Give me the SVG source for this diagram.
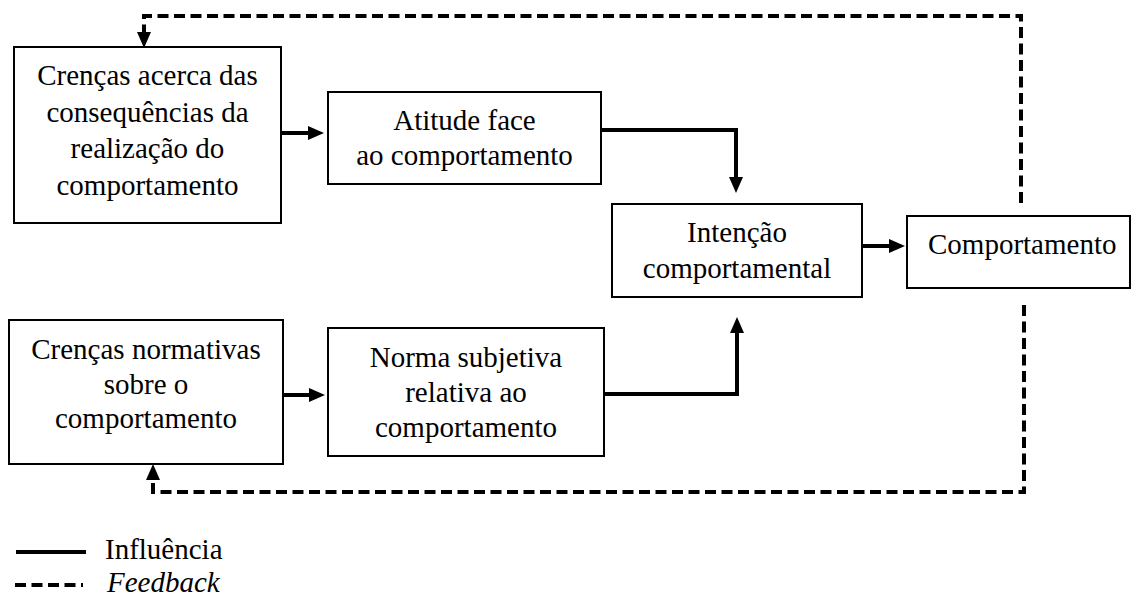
<svg xmlns="http://www.w3.org/2000/svg" width="1137" height="601" viewBox="0 0 1137 601">
<style>
.box{fill:#fff;stroke:#000;stroke-width:2}
.t{font-family:"Liberation Serif","Times New Roman",serif;font-size:29px;fill:#000;text-anchor:middle}
.s{fill:none;stroke:#000;stroke-width:4}
.d{fill:none;stroke:#000;stroke-width:4;stroke-dasharray:11 5.5}
</style>
<defs>
<marker id="ah" markerUnits="userSpaceOnUse" markerWidth="16" markerHeight="14" refX="1" refY="7" orient="auto">
<path d="M0,0 L16,7 L0,14 z" fill="#000"/>
</marker>
</defs>
<rect width="1137" height="601" fill="#fff"/>
<g id="connectors">
<path class="s" d="M281,133 H309" marker-end="url(#ah)"/>
<path class="s" d="M601,130 H736 V178" marker-end="url(#ah)"/>
<path class="s" d="M862,246 H890" marker-end="url(#ah)"/>
<path class="s" d="M283,395 H310" marker-end="url(#ah)"/>
<path class="s" d="M604,394 H737 V332" marker-end="url(#ah)"/>
<path class="d" d="M1021,203 V16 H144 V33" marker-end="url(#ah)"/>
<path class="d" d="M1024,305 V492 H153 V479" marker-end="url(#ah)"/>
</g>
<g id="n1">
<rect class="box" x="14" y="47" width="267" height="176"/>
<text class="t" x="147.5" y="85">Crenças acerca das</text>
<text class="t" x="147.5" y="122">consequências da</text>
<text class="t" x="147.5" y="158">realização do</text>
<text class="t" x="147.5" y="195">comportamento</text>
</g>
<g id="n2">
<rect class="box" x="328" y="92" width="273" height="92"/>
<text class="t" x="464.5" y="130">Atitude face</text>
<text class="t" x="464.5" y="165">ao comportamento</text>
</g>
<g id="n3">
<rect class="box" x="612" y="204" width="250" height="93"/>
<text class="t" x="737" y="242">Intenção</text>
<text class="t" x="737" y="278">comportamental</text>
</g>
<g id="n4">
<rect class="box" x="907" y="216" width="223" height="72"/>
<text class="t" x="928" y="254" style="text-anchor:start">Comportamento</text>
</g>
<g id="n5">
<rect class="box" x="9" y="320" width="274" height="144"/>
<text class="t" x="146" y="359">Crenças normativas</text>
<text class="t" x="146" y="394">sobre o</text>
<text class="t" x="146" y="428">comportamento</text>
</g>
<g id="n6">
<rect class="box" x="328" y="328" width="276" height="128"/>
<text class="t" x="466" y="367">Norma subjetiva</text>
<text class="t" x="466" y="402">relativa ao</text>
<text class="t" x="466" y="437">comportamento</text>
</g>
<g id="legend">
<path class="s" d="M16,552 H86"/>
<text class="t" x="105" y="559" style="text-anchor:start">Influência</text>
<path class="d" d="M15,585 H83"/>
<text class="t" x="107" y="592" style="text-anchor:start;font-style:italic">Feedback</text>
</g>
</svg>
